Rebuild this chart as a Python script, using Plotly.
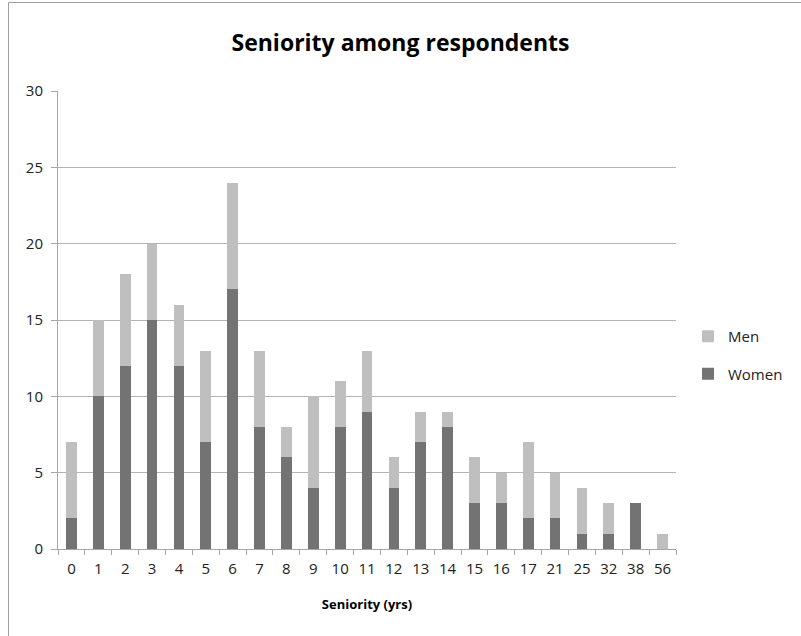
import plotly.graph_objects as go

categories = ["0", "1", "2", "3", "4", "5", "6", "7", "8", "9", "10", "11", "12",
              "13", "14", "15", "16", "17", "21", "25", "32", "38", "56"]
women = [2, 10, 12, 15, 12, 7, 17, 8, 6, 4, 8, 9, 4, 7, 8, 3, 3, 2, 2, 1, 1, 3, 0]
men = [5, 5, 6, 5, 4, 6, 7, 5, 2, 6, 3, 4, 2, 2, 1, 3, 2, 5, 3, 3, 2, 0, 1]
y_ticks = [0, 5, 10, 15, 20, 25, 30]

W, H = 801, 636
L, R, T, B = 58, 676, 91, 549  # plot area in pixels

FONT = "Open Sans"

fig = go.Figure()
fig.add_trace(go.Bar(x=categories, y=women, name="Women",
                     marker=dict(color="#737373", line=dict(width=0)),
                     legendgroup="w", legendrank=2))
fig.add_trace(go.Bar(x=categories, y=men, name="Men",
                     marker=dict(color="#bfbfbf", line=dict(width=0)),
                     legendgroup="m", legendrank=1))

def px_x(p):
    return (p - L) / (R - L)

def px_y(p):
    return (B - p) / (B - T)

fig.update_layout(
    width=W, height=H,
    margin=dict(l=L, r=W - R, t=T, b=H - B, pad=0, autoexpand=False),
    paper_bgcolor="white", plot_bgcolor="white",
    barmode="stack", bargap=0.6,
    font=dict(family=FONT, size=15, color="#222222"),
    title=dict(text="<b>Seniority among respondents</b>",
               x=0.5, xref="container", xanchor="center",
               y=1 - 43 / H, yref="container", yanchor="middle",
               font=dict(family=FONT, size=23, color="#000000")),
    showlegend=True,
    legend=dict(x=px_x(688), y=px_y(320), xanchor="left", yanchor="top",
                traceorder="grouped",
                font=dict(family=FONT, size=15, color="#222222"),
                tracegroupgap=15, itemwidth=30, bgcolor="rgba(0,0,0,0)"),
    xaxis=dict(type="category", categoryorder="array", categoryarray=categories,
               showline=True, linecolor="#a6a6a6", linewidth=1,
               ticks="outside", tickson="boundaries", ticklen=5,
               tickcolor="#a6a6a6", showgrid=False, tickangle=0,
               ticklabelstandoff=6,
               tickfont=dict(family=FONT, size=15, color="#222222"),
               title=dict(text="<b>Seniority (yrs)</b>", standoff=22,
                          font=dict(family=FONT, size=13, color="#000000"))),
    yaxis=dict(range=[0, 30], tickvals=y_ticks, showline=True,
               linecolor="#a6a6a6", linewidth=1, ticks="outside", ticklen=6,
               tickcolor="#a6a6a6", showgrid=True, gridcolor="#b3b3b3",
               gridwidth=1, zeroline=False, ticklabelstandoff=5,
               tickfont=dict(family=FONT, size=15, color="#222222")),
    shapes=[
        dict(type="line", xref="paper", yref="paper",
             x0=px_x(8.5), x1=px_x(8.5), y0=px_y(2.5), y1=px_y(640),
             line=dict(color="#a0a0a0", width=1)),
        dict(type="line", xref="paper", yref="paper",
             x0=px_x(8.5), x1=px_x(805), y0=px_y(2.5), y1=px_y(2.5),
             line=dict(color="#a0a0a0", width=1)),
    ],
)

fig.write_html("out.html")
